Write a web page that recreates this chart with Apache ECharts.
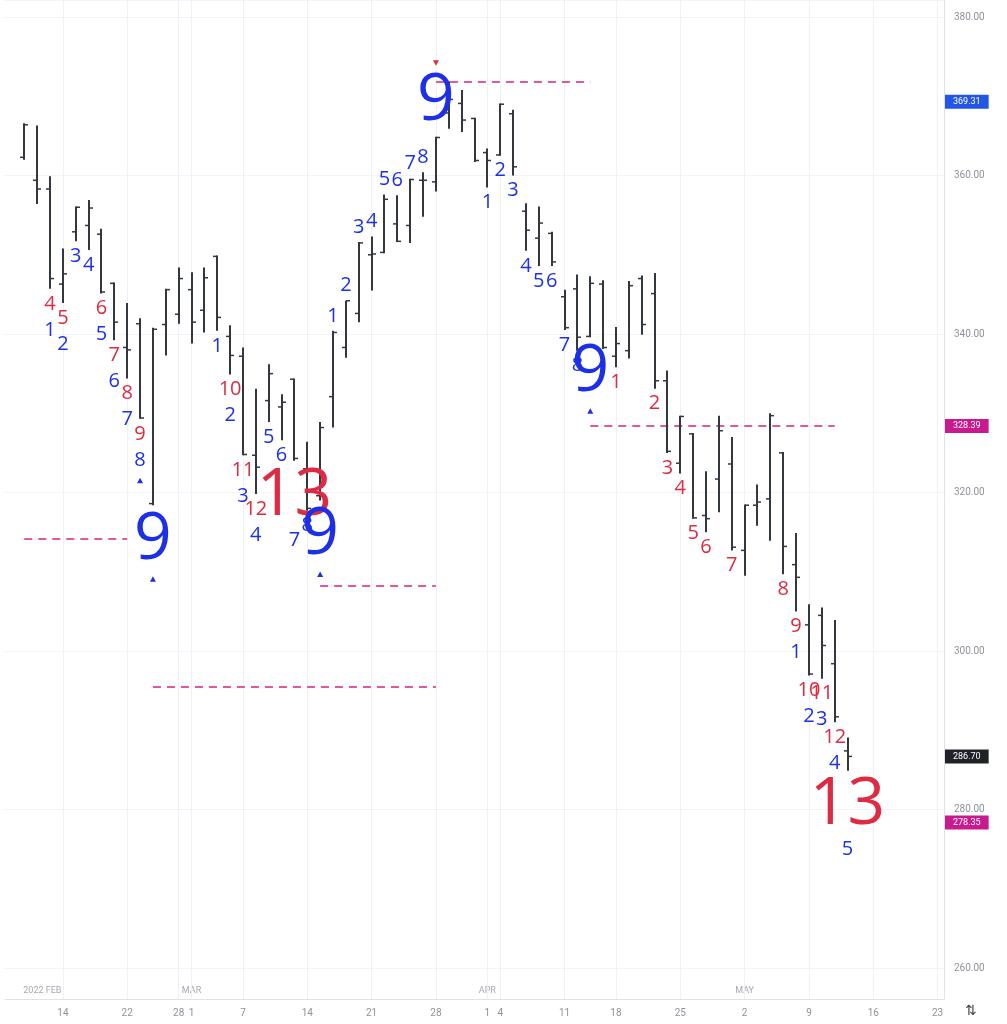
<!DOCTYPE html>
<html><head><meta charset="utf-8">
<script src="https://cdn.jsdelivr.net/npm/echarts@6/dist/echarts.min.js"></script>
<style>html,body{margin:0;padding:0;background:#fff}#chart{width:1007px;height:1024px}</style>
</head><body><div id="chart"></div>
<script>
// ---------- DATA ----------
const categories = [
 '2022-02-08','2022-02-09','2022-02-10','2022-02-11','2022-02-14','2022-02-15','2022-02-16','2022-02-17','2022-02-18','2022-02-22','2022-02-23','2022-02-24','2022-02-25','2022-02-28',
 '2022-03-01','2022-03-02','2022-03-03','2022-03-04','2022-03-07','2022-03-08','2022-03-09','2022-03-10','2022-03-11','2022-03-14','2022-03-15','2022-03-16','2022-03-17','2022-03-18','2022-03-21','2022-03-22','2022-03-23','2022-03-24','2022-03-25','2022-03-28','2022-03-29','2022-03-30','2022-03-31',
 '2022-04-01','2022-04-04','2022-04-05','2022-04-06','2022-04-07','2022-04-08','2022-04-11','2022-04-12','2022-04-13','2022-04-14','2022-04-18','2022-04-19','2022-04-20','2022-04-21','2022-04-22','2022-04-25','2022-04-26','2022-04-27','2022-04-28','2022-04-29',
 '2022-05-02','2022-05-03','2022-05-04','2022-05-05','2022-05-06','2022-05-09','2022-05-10','2022-05-11','2022-05-12','2022-05-13','2022-05-16','2022-05-17','2022-05-18','2022-05-19','2022-05-20','2022-05-23'
];
// bars start at categories[1] (2022-02-09)
const barOpen  = [362.3,359.4,358.3,346.3,352.9,353.7,352.6,346.4,338.3,341.3,318.6,341.2,342.5,345.6,343.0,349.8,339.7,337.2,324.7,331.6,330.8,334.3,323.0,319.6,332.1,338.3,342.6,350.0,350.3,353.9,353.7,359.4,359.2,367.9,369.1,367.2,362.9,362.6,367.8,355.5,352.1,352.7,344.7,345.7,339.7,346.3,337.2,337.9,347.0,345.1,334.1,323.7,327.4,317.1,321.7,323.6,312.7,318.4,319.2,325.0,310.9,303.3,304.5,298.4,287.4];
const barHigh  = [366.6,366.3,359.9,350.8,356.1,356.9,353.3,346.5,343.9,342.0,340.8,345.7,348.4,347.8,348.4,349.9,341.1,338.3,333.1,336.2,332.4,334.4,326.4,328.9,340.4,344.2,351.6,352.3,357.6,357.5,359.6,360.4,364.9,371.86,370.8,367.3,363.4,369.1,368.3,356.5,356.1,352.9,345.6,347.5,347.3,346.8,340.9,346.7,347.4,347.7,335.4,329.7,327.5,322.7,329.7,327.0,318.5,321.0,330.0,325.1,314.9,305.9,305.5,303.9,289.1];
const barLow   = [362.0,356.4,345.7,343.9,351.7,350.6,345.1,339.2,334.4,329.3,318.4,337.3,341.3,338.8,340.2,340.4,334.9,324.7,319.8,328.9,326.6,324.0,317.7,319.0,328.2,337.0,341.5,345.5,350.2,351.6,351.5,354.8,358.0,365.9,365.5,361.7,358.5,362.5,360.0,350.5,348.6,348.6,340.5,337.9,339.6,338.1,335.8,336.9,339.9,333.1,325.0,322.4,316.7,315.0,317.5,312.7,309.5,315.8,313.9,309.7,305.0,296.9,296.5,291.0,284.9];
const barClose = [366.4,358.3,347.0,347.6,356.0,355.9,345.3,341.5,338.0,329.4,340.6,345.6,347.0,341.5,347.1,342.1,337.3,324.8,323.2,335.0,331.4,324.3,318.0,328.2,340.2,344.2,351.5,350.1,357.0,351.7,359.5,359.4,364.8,369.6,367.0,361.9,361.9,369.0,361.1,353.1,354.0,349.1,340.8,339.6,346.4,338.3,338.8,346.1,341.2,334.1,325.2,329.6,316.8,316.7,327.8,313.1,318.4,318.8,329.7,313.2,309.3,297.1,300.7,291.7,286.7];

const dayTicks = ['2022-02-14','2022-02-22','2022-02-28','2022-03-01','2022-03-07','2022-03-14','2022-03-21','2022-03-28','2022-04-01','2022-04-04','2022-04-11','2022-04-18','2022-04-25','2022-05-02','2022-05-09','2022-05-16','2022-05-23'];
const monthDates = ['2022-02-09','2022-03-01','2022-04-01','2022-05-02'];
const monthTexts = ['2022 FEB','MAR','APR','MAY'];

// TD counts: [barIndex, text]
const countdownBelow = [[2,'4'],[3,'5'],[6,'6'],[7,'7'],[8,'8'],[9,'9'],[16,'10'],[17,'11'],[18,'12'],[21,'13'],
  [46,'1'],[49,'2'],[50,'3'],[51,'4'],[52,'5'],[53,'6'],[55,'7'],[59,'8'],[60,'9'],[61,'10'],[62,'11'],[63,'12'],[64,'13']];
const setupBelow = [[2,'1'],[3,'2'],[4,'3'],[5,'4'],[6,'5'],[7,'6'],[8,'7'],[9,'8'],[10,'9'],
  [15,'1'],[16,'2'],[17,'3'],[18,'4'],[19,'5'],[20,'6'],[21,'7'],[22,'8'],[23,'9'],
  [36,'1'],[37,'2'],[38,'3'],[39,'4'],[40,'5'],[41,'6'],[42,'7'],[43,'8'],[44,'9'],
  [60,'1'],[61,'2'],[62,'3'],[63,'4'],[64,'5']];
const setupAbove = [[24,'1'],[25,'2'],[26,'3'],[27,'4'],[28,'5'],[29,'6'],[30,'7'],[31,'8'],[32,'9']];
const arrowsBelow = [9,10,23,44];
const arrowsAbove = [32];

// risk lines: [fromBar, toBar, level]
const riskLines = [[0,8,314.2],[10,32,295.52],[23,32,308.26],[32,44,371.86],[44,63,328.39]];
const priceTagValues = [369.31,328.39,286.70,278.35];
const priceTagColors = ['#2356e6','#c8198f','#1f2327','#c8198f'];

// ---------- BUILD ----------
const BLUE = '#1d30e8', RED = '#de2a42', BARC = '#33383e';
const FONT = '"Open Sans","Noto Sans",sans-serif';
const labelItems = [];
const belowCur = {}, aboveCur = {};
function addLabel(i, text, color, big, side) {
  const cur = side === 'below' ? belowCur : aboveCur;
  const c = cur[i] || 0;
  const dy = c + (big ? 35 : 15);
  cur[i] = c + (big ? 64 : 26);
  labelItems.push({i, text, color, big, side, kind: 'text', dy});
}
function addArrow(i, color, side) {
  const cur = side === 'below' ? belowCur : aboveCur;
  const c = cur[i] || 0;
  labelItems.push({i, color, side, kind: 'arrow', dy: c + 10});
  cur[i] = c + 20;
}
countdownBelow.forEach(([i,t]) => addLabel(i, t, RED, t === '13', 'below'));
setupBelow.forEach(([i,t]) => addLabel(i, t, BLUE, t === '9', 'below'));
setupAbove.forEach(([i,t]) => addLabel(i, t, BLUE, t === '9', 'above'));
arrowsBelow.forEach(i => addArrow(i, BLUE, 'below'));
arrowsAbove.forEach(i => addArrow(i, RED, 'above'));

const barData = barOpen.map((o, i) => [i + 1, o, barClose[i], barLow[i], barHigh[i]]);
const labelData = labelItems.map(it => [it.i + 1, it.side === 'below' ? barLow[it.i] : barHigh[it.i]]);
const tickSet = new Set(dayTicks);

const chart = echarts.init(document.getElementById('chart'), null, {renderer: 'canvas'});
chart.setOption({
  animation: false,
  backgroundColor: '#ffffff',
  textStyle: {fontFamily: 'Roboto, sans-serif'},
  grid: {left: 5, right: 63, top: 0, bottom: 25, containLabel: false},
  xAxis: {
    type: 'category', data: categories, boundaryGap: true,
    axisLine: {show: true, lineStyle: {color: '#dfe2e7', width: 1}},
    axisTick: {show: false},
    axisLabel: {interval: (idx, v) => tickSet.has(v), formatter: v => String(+v.slice(8)), color: '#8e939b', fontSize: 10, margin: 9},
    splitLine: {show: false}
  },
  yAxis: {
    type: 'value', position: 'right', min: 256.09, max: 382.15, splitNumber: 6,
    axisLine: {show: true, lineStyle: {color: '#dfe2e7'}},
    axisTick: {show: false},
    axisLabel: {color: '#8e939b', fontSize: 10, margin: 10,
      formatter: v => (Math.abs(v / 20 - Math.round(v / 20)) < 1e-6 ? v.toFixed(2) : '')},
    splitLine: {show: true, lineStyle: {color: '#f1f3f6'}}
  },
  graphic: [{type: 'text', right: 30, bottom: 6, style: {text: '⇅', fill: '#444', font: '14px "DejaVu Sans"'}}],
  series: [
    { // vertical grid lines at day ticks
      type: 'line', data: [], silent: true, z: 1,
      markLine: {silent: true, symbol: ['none','none'], label: {show: false},
        lineStyle: {color: '#eef1f5', width: 1, type: 'solid'},
        data: dayTicks.map(d => ({xAxis: d}))}
    },
    { // month labels
      type: 'custom', silent: true, z: 2, clip: false,
      data: monthDates.map(d => [categories.indexOf(d), 300]),
      renderItem: (params, api) => {
        const p = api.coord([api.value(0), api.value(1)]);
        const cs = params.coordSys;
        const first = params.dataIndex === 0;
        return {type: 'text', x: first ? p[0] - 1 : p[0], y: cs.y + cs.height - 8,
          style: {text: monthTexts[params.dataIndex], fill: '#a5a9b0', fontSize: 9, fontFamily: 'Roboto, sans-serif',
            align: first ? 'left' : 'center', verticalAlign: 'middle'}};
      }
    },
    { // risk lines
      type: 'line', data: [], silent: true, z: 3,
      markLine: {silent: true, symbol: ['none','none'], animation: false, label: {show: false},
        lineStyle: {color: '#e0589e', width: 2, type: [8, 6]},
        data: riskLines.map(([a, b, v]) => [{coord: [a + 1, v]}, {coord: [b + 1, v]}])
      }
    },
    { // price tags on the axis
      type: 'line', data: [], silent: true, z: 8,
      markLine: {silent: true, symbol: ['none','none'], animation: false,
        lineStyle: {color: 'rgba(255,255,255,0)', width: 1, type: 'solid'},
        data: priceTagValues.map((v, k) => ({
          yAxis: v,
          label: {show: true, position: 'end', distance: 1, formatter: v.toFixed(2), color: '#ffffff',
            backgroundColor: priceTagColors[k], padding: [3, 8, 2, 8], fontSize: 9, fontFamily: 'Roboto, sans-serif'}
        }))
      }
    },
    { // OHLC bars
      type: 'custom', z: 5, silent: true,
      encode: {x: 0, y: [1, 2, 3, 4]},
      data: barData,
      renderItem: (params, api) => {
        const x = api.value(0);
        const o = api.coord([x, api.value(1)]);
        const c = api.coord([x, api.value(2)]);
        const l = api.coord([x, api.value(3)]);
        const h = api.coord([x, api.value(4)]);
        const cx = Math.round(h[0]);
        return {type: 'group', children: [
          {type: 'line', shape: {x1: cx, y1: h[1], x2: cx, y2: l[1]}, style: {stroke: BARC, lineWidth: 2}},
          {type: 'line', shape: {x1: cx - 4, y1: o[1], x2: cx, y2: o[1]}, style: {stroke: BARC, lineWidth: 1.5}},
          {type: 'line', shape: {x1: cx, y1: c[1], x2: cx + 4, y2: c[1]}, style: {stroke: BARC, lineWidth: 1.5}}
        ]};
      }
    },
    { // TD labels
      type: 'custom', z: 6, silent: true, clip: false,
      data: labelData,
      renderItem: (params, api) => {
        const it = labelItems[params.dataIndex];
        const p = api.coord([api.value(0), api.value(1)]);
        const y = it.side === 'below' ? p[1] + it.dy : p[1] - it.dy;
        if (it.kind === 'arrow') {
          const pts = it.side === 'below'
            ? [[p[0] - 3, y + 2.5], [p[0] + 3, y + 2.5], [p[0], y - 3]]
            : [[p[0] - 3, y - 2.5], [p[0] + 3, y - 2.5], [p[0], y + 3]];
          return {type: 'polygon', shape: {points: pts}, style: {fill: it.color}};
        }
        return {type: 'text', x: p[0], y: y,
          style: {text: it.text, fill: it.color, fontSize: it.big ? 66 : 20, fontFamily: FONT,
            align: 'center', verticalAlign: 'middle'}};
      }
    }
  ]
});
</script></body></html>
